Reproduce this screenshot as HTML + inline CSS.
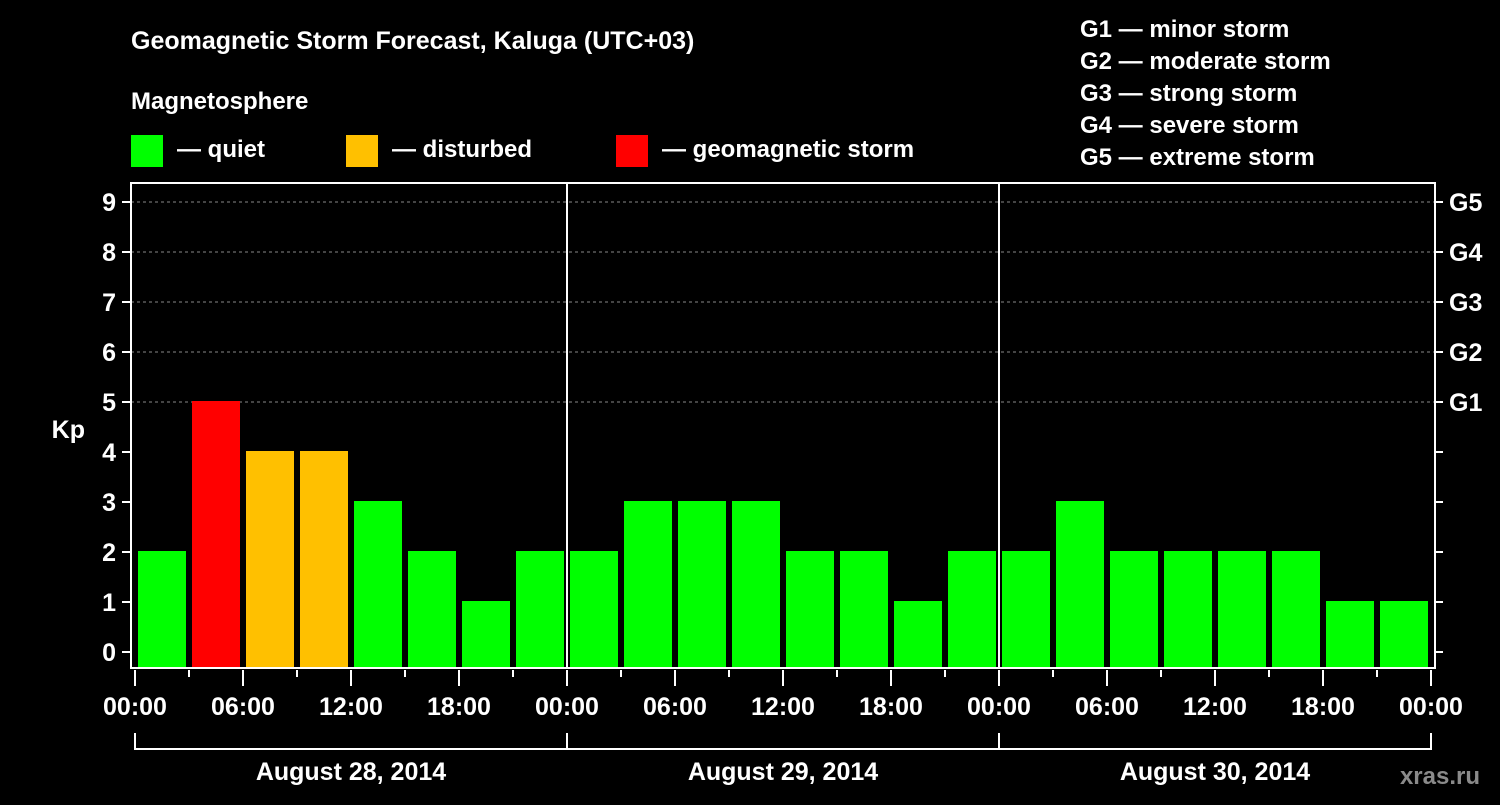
<!DOCTYPE html>
<html><head><meta charset="utf-8"><style>
body{margin:0;background:#000;width:1500px;height:800px;overflow:hidden}
svg text{font-family:"Liberation Sans",Arial,sans-serif;font-weight:bold;fill:#fff}
</style></head><body>
<svg id="c" width="1500" height="800">
<text x="131" y="49" font-size="25">Geomagnetic Storm Forecast, Kaluga (UTC+03)</text>
<text x="131" y="109" font-size="24">Magnetosphere</text>
<rect x="131" y="135" width="32" height="32" fill="#00ff00"/>
<text x="177" y="157" font-size="24">— quiet</text>
<rect x="346" y="135" width="32" height="32" fill="#ffc000"/>
<text x="392" y="157" font-size="24">— disturbed</text>
<rect x="616" y="135" width="32" height="32" fill="#ff0000"/>
<text x="662" y="157" font-size="24">— geomagnetic storm</text>
<g font-size="24">
<text x="1080" y="37">G1 — minor storm</text>
<text x="1080" y="69">G2 — moderate storm</text>
<text x="1080" y="101">G3 — strong storm</text>
<text x="1080" y="133">G4 — severe storm</text>
<text x="1080" y="165">G5 — extreme storm</text>
</g>
<text x="85" y="438" font-size="25" text-anchor="end">Kp</text>
<text x="1480" y="784" font-size="24" text-anchor="end" fill="#888" style="fill:#8a8a8a">xras.ru</text>
<g id="g"></g>
</svg>
<script>
const kpValues=[2,5,4,4,3,2,1,2, 2,3,3,3,2,2,1,2, 2,3,2,2,2,2,1,1];
const yTicks=[0,1,2,3,4,5,6,7,8,9];
const gLabels=["G1","G2","G3","G4","G5"];
const xTickLabels=["00:00","06:00","12:00","18:00","00:00","06:00","12:00","18:00","00:00","06:00","12:00","18:00","00:00"];
const dayLabels=["August 28, 2014","August 29, 2014","August 30, 2014"];
const NS="http://www.w3.org/2000/svg",g=document.getElementById('g');
const L=131,R=1435,T=183,B=668,X0=135,DAY=432;
const y=v=>652-50*v, x=h=>X0+h*DAY/24;
function mk(t,a){const e=document.createElementNS(NS,t);for(const k in a)e.setAttribute(k,a[k]);g.appendChild(e);return e;}
// grid
for(let v=5;v<=9;v++){const e=mk('line',{x1:L,x2:R,y1:y(v),y2:y(v),stroke:'#888','stroke-dasharray':'3,3','stroke-width':1});

}
// bars
kpValues.forEach((v,i)=>{const c=v>=5?'#ff0000':v>=4?'#ffc000':'#00ff00';
const e=mk('rect',{x:x(i*3)+3,y:y(v)-1,width:48,height:B-y(v)+1,fill:c});

});
// day separators
[1,2].forEach(d=>{const e=mk('line',{x1:x(24*d),x2:x(24*d),y1:T,y2:B,stroke:'#fff','stroke-width':2});

});
// frame
const f=mk('rect',{x:L,y:T,width:R-L,height:B-T,fill:'none',stroke:'#fff','stroke-width':2});


// y ticks
yTicks.forEach(v=>{mk('line',{x1:122,x2:L,y1:y(v),y2:y(v),stroke:'#fff','stroke-width':2});
mk('line',{x1:R,x2:1443,y1:y(v),y2:y(v),stroke:'#fff','stroke-width':2});
const t=mk('text',{x:116,y:y(v)+9,'font-size':25,'text-anchor':'end'});t.textContent=v;

});
gLabels.forEach((s,i)=>{const t=mk('text',{x:1449,y:y(5+i)+9,'font-size':25});t.textContent=s;

});
// x ticks
for(let h=0;h<=72;h+=3){const major=h%6==0;mk('line',{x1:x(h),x2:x(h),y1:670,y2:major?686:677,stroke:'#fff','stroke-width':2});}
xTickLabels.forEach((s,i)=>{const t=mk('text',{x:x(i*6),y:715,'font-size':25,'text-anchor':'middle'});t.textContent=s;

});
// day brackets
mk('path',{d:`M${x(0)} 733V749H${x(72)}V733M${x(24)} 733V749M${x(48)} 733V749`,fill:'none',stroke:'#fff','stroke-width':2});
dayLabels.forEach((s,i)=>{const t=mk('text',{x:x(24*i+12),y:780,'font-size':25,'text-anchor':'middle'});t.textContent=s;

});
</script>
</body></html>
